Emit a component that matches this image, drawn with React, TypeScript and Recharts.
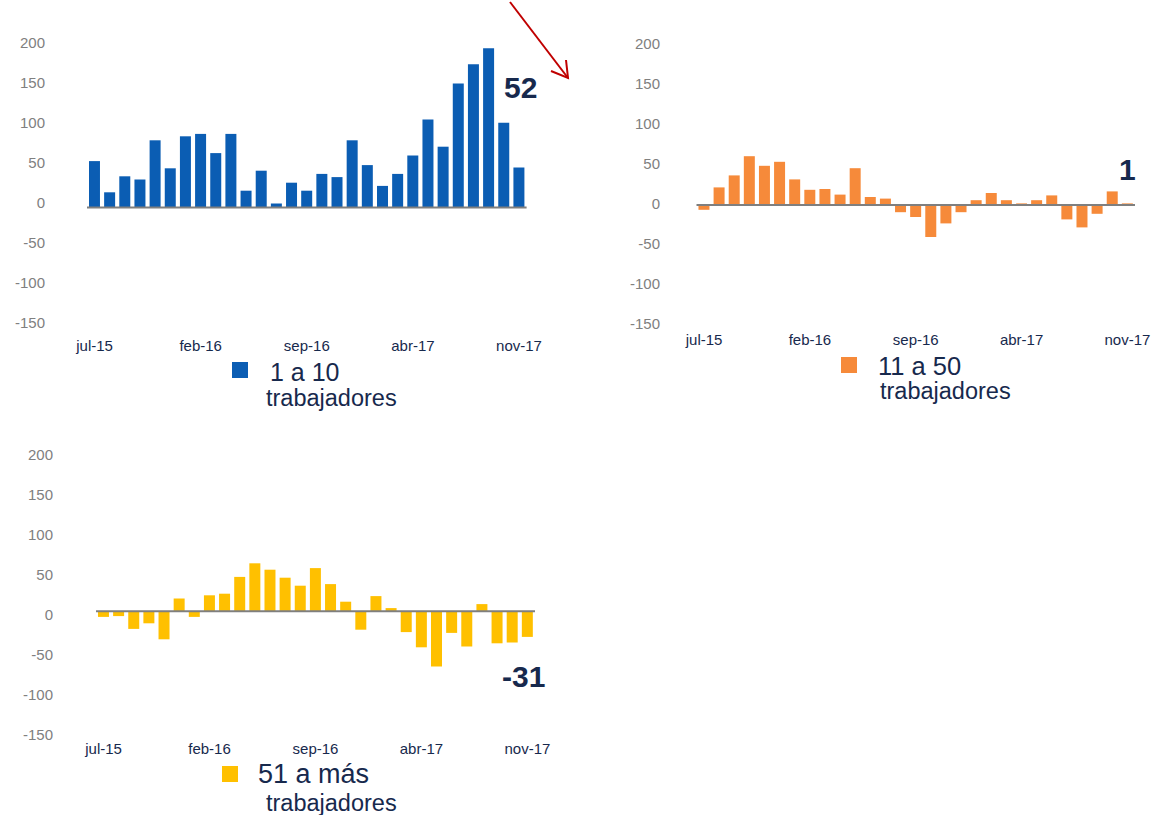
import React from 'react'
import { Bar, BarChart, ReferenceLine, XAxis, YAxis } from 'recharts'

const meses = [
   'jul-15', 'ago-15', 'sep-15', 'oct-15', 'nov-15', 'dic-15',
   'ene-16', 'feb-16', 'mar-16', 'abr-16', 'may-16', 'jun-16',
   'jul-16', 'ago-16', 'sep-16', 'oct-16', 'nov-16', 'dic-16',
   'ene-17', 'feb-17', 'mar-17', 'abr-17', 'may-17', 'jun-17',
   'jul-17', 'ago-17', 'sep-17', 'oct-17', 'nov-17',
]

const micro = [58, 19, 39, 35, 84, 49, 89, 92, 68, 92, 21, 46, 5, 31, 21, 42, 38, 84, 53, 27, 42, 65, 110, 76, 155, 179, 199, 106, 50]
const pequena = [-6, 22, 37, 61, 49, 54, 32, 19, 20, 13, 46, 10, 8, -9, -15, -40, -23, -9, 6, 15, 6, 2, 6, 12, -18, -28, -11, 17, 2]
const grande = [-7, -6, -22, -15, -35, 16, -7, 20, 22, 43, 60, 52, 42, 32, 54, 34, 12, -23, 19, 4, -26, -45, -69, -27, -44, 9, -40, -39, -32]

const yTicks = [-150, -100, -50, 0, 50, 100, 150, 200]

const FONT = '"Liberation Sans", Arial, sans-serif'
const NAVY = '#17294d'

interface PanelProps {
   left: number
   top: number
   values: number[]
   color: string
   plotLeft: number
   plotRight: number
   plotTop: number
   labelRight: number
   labelShift: number
   xLabelY: number
}

function Panel({ left, top, values, color, plotLeft, plotRight, plotTop, labelRight, labelShift, xLabelY }: PanelProps) {
   const width = 560
   const height = 360
   const data = meses.map((m, i) => ({ mes: m, valor: values[i] }))
   const plotBottom = plotTop + 280

   const yTick = (props: any) => (
      <text
         x={labelRight}
         y={props.y + labelShift}
         dy="0.355em"
         textAnchor="end"
         fontSize={15}
         fontFamily={FONT}
         fill="#808080"
      >
         {props.payload.value}
      </text>
   )
   const xTick = (props: any) => (
      <text x={props.x} y={xLabelY} textAnchor="middle" fontSize={15} fontFamily={FONT} fill={NAVY}>
         {props.payload.value}
      </text>
   )

   return (
      <div style={{ position: 'absolute', left, top }}>
         <BarChart
            width={width}
            height={height}
            data={data}
            barCategoryGap="13%"
            margin={{ top: plotTop, right: width - plotRight, left: 0, bottom: 0 }}
         >
            <XAxis
               dataKey="mes"
               interval={6}
               axisLine={false}
               tickLine={false}
               height={height - plotBottom}
               tick={xTick}
            />
            <YAxis
               domain={[-150, 200]}
               ticks={yTicks}
               axisLine={false}
               tickLine={false}
               width={plotLeft}
               tick={yTick}
            />
            <Bar dataKey="valor" fill={color} isAnimationActive={false} />
            <ReferenceLine y={0} stroke="#7f7f7f" strokeWidth={2} />
         </BarChart>
      </div>
   )
}

export default function App() {
   return (
      <div style={{ position: 'absolute', left: 0, top: 0, width: 1170, height: 815, background: '#fff' }}>
         <Panel left={0} top={0} values={micro} color="#0b5db3"
            plotLeft={87} plotRight={526.6} plotTop={47.5} labelRight={45} labelShift={-4.5} xLabelY={351} />
         <Panel left={600} top={0} values={pequena} color="#f68a3a"
            plotLeft={96.5} plotRight={535} plotTop={45} labelRight={60} labelShift={-1.7} xLabelY={345} />
         <Panel left={0} top={410} values={grande} color="#ffc000"
            plotLeft={96} plotRight={535} plotTop={41.3} labelRight={53} labelShift={3.7} xLabelY={344} />

         <svg width={1170} height={815} style={{ position: 'absolute', left: 0, top: 0, pointerEvents: 'none' }}>
            <g fontFamily={FONT} fill={NAVY}>
               <rect x={232} y={362} width={16} height={16} fill="#0b5db3" />
               <text x={270} y={381} fontSize={25}>1 a 10</text>
               <text x={266} y={406} fontSize={23.5}>trabajadores</text>

               <rect x={841} y={357} width={16} height={16} fill="#f68a3a" />
               <text x={878} y={375} fontSize={25.5}>11 a 50</text>
               <text x={880} y={399} fontSize={23.5}>trabajadores</text>

               <rect x={222} y={766} width={16} height={16} fill="#ffc000" />
               <text x={258} y={783} fontSize={27}>51 a más</text>
               <text x={266} y={811} fontSize={23.5}>trabajadores</text>

               <text x={504} y={98} fontSize={30} fontWeight="bold">52</text>
               <text x={1119} y={180} fontSize={30} fontWeight="bold">1</text>
               <text x={502} y={687} fontSize={30} fontWeight="bold">-31</text>
            </g>
            <g stroke="#c00000" strokeWidth={2} fill="none">
               <line x1={510} y1={2} x2={568} y2={78} />
               <polyline points="551,71 568,78 566,60" />
            </g>
         </svg>
      </div>
   )
}
